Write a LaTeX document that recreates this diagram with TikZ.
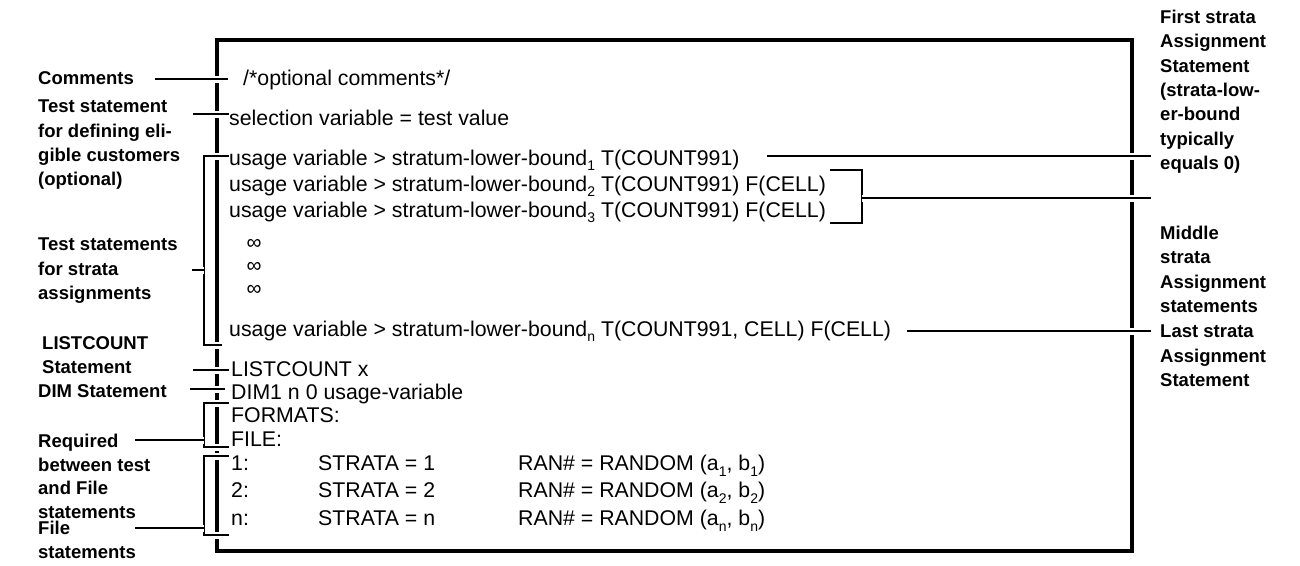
\documentclass[tikz,border=0pt]{standalone}
\usepackage{fontspec}
\setmainfont{Liberation Sans}
\newcommand\mysub[1]{\raisebox{-0.28em}{\fontsize{14}{14}\selectfont #1}}
\begin{document}
\begin{tikzpicture}[x=1pt,y=-1pt,
  lab/.style={anchor=north west, inner sep=0pt, align=left,
    font=\fontsize{18.5}{24.3}\selectfont\bfseries},
  lab1/.style={anchor=west, inner sep=0pt, font=\fontsize{18.5}{24.3}\selectfont\bfseries},
  code/.style={anchor=base west, inner sep=0pt, font=\fontsize{21.3}{26}\selectfont},
  dots/.style={anchor=center, inner sep=0pt, font=\fontsize{21}{21}\selectfont},
  conn/.style={line width=1.8pt, preaction={draw=white, line width=7pt}},
  frame/.style={line width=4pt}]
\useasboundingbox[fill=white] (0,0) rectangle (1300,565);

% frame
\draw[frame] (217,40) rectangle (1132,551);

% code text
\node[code] (cmt) at (243,85.5) {/*optional comments*/};
\node[code] (sel) at (229,125) {selection variable = test value};
\node[code] (u1) at (229,165) {usage variable > stratum-lower-bound\mysub{1} T(COUNT991)};
\node[code] (u2) at (229,191) {usage variable > stratum-lower-bound\mysub{2} T(COUNT991) F(CELL)};
\node[code] (u3) at (229,217) {usage variable > stratum-lower-bound\mysub{3} T(COUNT991) F(CELL)};
\node[dots] (d1) at (254,244) {∞};
\node[dots] (d2) at (254,267) {∞};
\node[dots] (d3) at (254,290) {∞};
\node[code] (un) at (229,336) {usage variable > stratum-lower-bound\mysub{n} T(COUNT991, CELL) F(CELL)};
\node[code] (lc) at (231,376) {LISTCOUNT x};
\node[code] (dim) at (231,399.5) {DIM1 n 0 usage-variable};
\node[code] (fmt) at (231,422.5) {FORMATS:};
\node[code] (fil) at (231,446.5) {FILE:};
\node[code] (f1) at (231,470.5) {1:};
\node[code] (f2) at (231,497.5) {2:};
\node[code] (fn) at (231,525.5) {n:};
\node[code] (s1) at (318,470.5) {STRATA = 1};
\node[code] (s2) at (318,497.5) {STRATA = 2};
\node[code] (sn) at (318,525.5) {STRATA = n};
\node[code] (r1) at (518,470.5) {RAN\# = RANDOM (a\mysub{1}, b\mysub{1})};
\node[code] (r2) at (518,497.5) {RAN\# = RANDOM (a\mysub{2}, b\mysub{2})};
\node[code] (rn) at (518,525.5) {RAN\# = RANDOM (a\mysub{n}, b\mysub{n})};

% left labels
\node[lab1] (lcom) at (38,78) {Comments};
\node[lab] (ltest) at (38,100) {Test statement\\for defining eli-\\gible customers\\(optional)};
\node[lab] (lstr) at (38,238) {Test statements\\for strata\\assignments};
\node[lab] (llc) at (42,336) {LISTCOUNT\\Statement};
\node[lab1] (ldim) at (38,391) {DIM Statement};
\node[lab,font=\fontsize{18.5}{23.5}\selectfont\bfseries] (lreq) at (38,434) {Required\\between test\\and File\\statements};
\node[lab] (lfile) at (38,521) {File\\statements};

% right labels
\node[lab] (rfirst) at (1160,10) {First strata\\Assignment\\Statement\\(strata-low-\\er-bound\\typically\\equals 0)};
\node[lab] (rmid) at (1160,226) {Middle\\strata\\Assignment\\statements};
\node[lab] (rlast) at (1160,325) {Last strata\\Assignment\\Statement};

% connectors
\draw[conn] (155,79) -- (228,79);
\draw[conn] (193,114) -- (229,114);
% strata bracket
\draw[conn] (229,156) -- (204,156) -- (204,345) -- (222,345);
\draw[conn] (192,270) -- (204,270);
\draw[conn] (193,370) -- (229,370);
\draw[conn] (190,389) -- (225,389);
% formats bracket
\draw[conn] (229,403) -- (204,403) -- (204,447) -- (229,447);
\draw[conn] (135,440) -- (204,440);
% file bracket
\draw[conn] (229,456) -- (204,456) -- (204,535) -- (229,535);
\draw[conn] (135,528) -- (204,528);
% right side
\draw[conn] (767,156) -- (1151,156);
\draw[conn] (830,170) -- (862,170) -- (862,223) -- (830,223);
\draw[conn] (862,198) -- (1151,198);
\draw[conn] (907,331) -- (1151,331);
\end{tikzpicture}
\end{document}
